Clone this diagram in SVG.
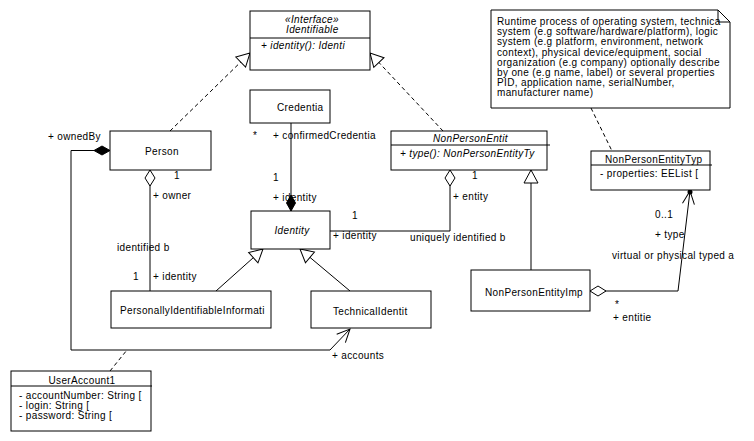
<svg xmlns="http://www.w3.org/2000/svg" width="754" height="441" viewBox="0 0 754 441">
<style>
text{font-family:"Liberation Sans",Arial,sans-serif;font-size:10px;letter-spacing:0.35px;fill:#000}
.i{font-style:italic}
.m{text-anchor:middle}
.box{fill:#fff;stroke:#000;stroke-width:1}
.ln{fill:none;stroke:#000;stroke-width:1}
.dash{fill:none;stroke:#000;stroke-width:1;stroke-dasharray:4,3}
</style>
<defs>
<marker id="tri" viewBox="-15 -9 17 18" refX="0" refY="0" markerWidth="17" markerHeight="18" markerUnits="userSpaceOnUse" orient="auto"><path d="M0,0 L-13,-7 L-13,7 Z" fill="#fff" stroke="#000"/></marker>
<marker id="fdia" viewBox="-2 -7 20 14" refX="0" refY="0" markerWidth="20" markerHeight="14" markerUnits="userSpaceOnUse" orient="auto"><path d="M0,0 L8,-4.5 L16,0 L8,4.5 Z" fill="#000" stroke="#000"/></marker>
<marker id="hdia" viewBox="-2 -7 20 14" refX="0" refY="0" markerWidth="20" markerHeight="14" markerUnits="userSpaceOnUse" orient="auto"><path d="M0,0 L8,-5 L16,0 L8,5 Z" fill="#fff" stroke="#000"/></marker>
<marker id="arr" viewBox="-16 -9 18 18" refX="0" refY="0" markerWidth="18" markerHeight="18" markerUnits="userSpaceOnUse" orient="auto"><path d="M-13,-6 L0,0 L-13,6" fill="none" stroke="#000"/></marker>
</defs>
<rect width="754" height="441" fill="#fff"/>

<g id="connectors">
<path class="dash" d="M170,131 L250,53" marker-end="url(#tri)"/>
<path class="dash" d="M443,131 L370,53" marker-end="url(#tri)"/>
<path class="ln" d="M291,211 L291,123" marker-start="url(#fdia)"/>
<path class="ln" d="M450,170 L450,231 L330,231" marker-start="url(#hdia)"/>
<path class="ln" d="M150,170 L150,291" marker-start="url(#hdia)"/>
<path class="ln" d="M216,291 L263,249" marker-end="url(#tri)"/>
<path class="ln" d="M350,291 L300,249" marker-end="url(#tri)"/>
<path class="ln" d="M110,150.5 L71,150.5 L71,350 L330,350 L350,329" marker-start="url(#fdia)" marker-end="url(#arr)"/>
<path class="dash" d="M110,371 L127,350"/>
<path class="ln" d="M531,270 L531,170" marker-end="url(#tri)"/>
<path class="ln" d="M590,291 L678,291 L690,191" marker-start="url(#hdia)" marker-end="url(#arr)"/>
<circle cx="690" cy="192" r="2.5" fill="#000"/>
<path class="dash" d="M591,108 L612,151"/>
<text x="48" y="139.5">+ ownedBy</text>
<text x="253" y="139">*</text>
<text x="273" y="139">+ confirmedCredentia</text>
<text x="273" y="181">1</text>
<text x="273" y="201">+ identity</text>
<text x="352" y="219">1</text>
<text x="333" y="239">+ identity</text>
<text x="410" y="241">uniquely identified b</text>
<text x="453" y="200">+ entity</text>
<text x="472" y="179">1</text>
<text x="174" y="179">1</text>
<text x="153" y="199">+ owner</text>
<text x="117" y="251">identified b</text>
<text x="133" y="280">1</text>
<text x="153" y="280">+ identity</text>
<text x="332" y="359">+ accounts</text>
<text x="655" y="218">0..1</text>
<text x="655" y="238">+ type</text>
<text x="612" y="259">virtual or physical typed a</text>
<text x="615" y="308">*</text>
<text x="613" y="321">+ entitie</text>
</g>

<g id="Identifiable">
<rect class="box" x="250" y="11" width="120" height="59"/>
<line class="ln" x1="250" y1="38" x2="370" y2="38"/>
<text class="i m" x="312" y="22.5">«Interface»</text>
<text class="i" x="286" y="32.5">Identifiable</text>
<text class="i" x="261" y="49">+ identity(): Identi</text>
</g>

<g id="note">
<path class="box" d="M491,10 L718,10 L730,22 L730,108 L491,108 Z"/>
<path class="ln" d="M718,10 L718,22 L730,22"/>
<text x="497" y="25">Runtime process of operating system, technica</text>
<text x="497" y="35.2">system (e.g software/hardware/platform), logic</text>
<text x="497" y="45.4">system (e.g platform, environment, network</text>
<text x="497" y="55.6">context), physical device/equipment, social</text>
<text x="497" y="65.8">organization (e.g company) optionally describe</text>
<text x="497" y="76">by one (e.g name, label) or several properties</text>
<text x="497" y="86.2">PID, application name, serialNumber,</text>
<text x="497" y="96.4">manufacturer name)</text>
</g>

<g id="Person">
<rect class="box" x="110" y="131" width="101" height="39"/>
<text class="m" x="162" y="154.5">Person</text>
</g>

<g id="Credential">
<rect class="box" x="250" y="90" width="80" height="33"/>
<text x="277" y="110.5">Credentia</text>
</g>

<g id="NonPersonEntity">
<rect class="box" x="391" y="131" width="156" height="39"/>
<line class="ln" x1="391" y1="145" x2="550" y2="145"/>
<text class="i" x="433" y="141.5">NonPersonEntit</text>
<text class="i" x="400" y="156.5">+ type(): NonPersonEntityTy</text>
</g>

<g id="NonPersonEntityType">
<rect class="box" x="591" y="151" width="119" height="39"/>
<line class="ln" x1="591" y1="165" x2="712" y2="165"/>
<text x="605" y="162.5">NonPersonEntityTyp</text>
<text x="600" y="177">- properties: EEList [</text>
</g>

<g id="Identity">
<rect class="box" x="251" y="211" width="79" height="38"/>
<text class="i m" x="292" y="233.5">Identity</text>
</g>

<g id="PersonallyIdentifiableInformation">
<rect class="box" x="111" y="291" width="160" height="37"/>
<text x="120" y="313.5">PersonallyIdentifiableInformati</text>
</g>

<g id="TechnicalIdentity">
<rect class="box" x="311" y="291" width="120" height="37"/>
<text x="333" y="314.5">TechnicalIdentit</text>
</g>

<g id="NonPersonEntityImpl">
<rect class="box" x="471" y="270" width="119" height="41"/>
<text x="485" y="295.5">NonPersonEntityImp</text>
</g>

<g id="UserAccount">
<rect class="box" x="11" y="371" width="140" height="60"/>
<line class="ln" x1="11" y1="386" x2="152" y2="386"/>
<text class="m" x="82" y="383.5">UserAccount1</text>
<text x="19" y="399">- accountNumber: String [</text>
<text x="19" y="409">- login: String [</text>
<text x="19" y="419">- password: String [</text>
</g>
</svg>
